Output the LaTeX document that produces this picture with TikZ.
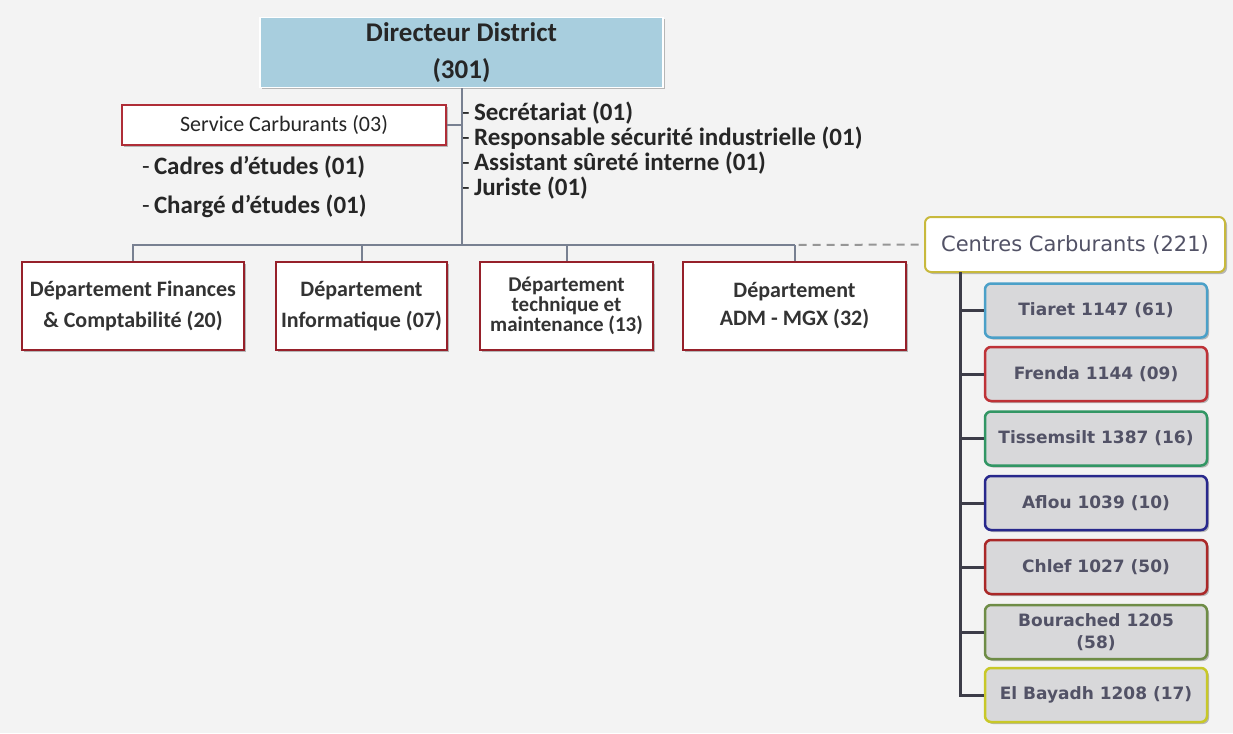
\documentclass[tikz,border=0pt]{standalone}
\usepackage{fontspec}
\setmainfont{Carlito}
\newfontfamily\verd{DejaVu Sans}
\usetikzlibrary{shadows}
\definecolor{bgc}{RGB}{243,243,243}
\definecolor{dirblue}{RGB}{168,206,222}
\definecolor{deptred}{RGB}{150,32,42}
\definecolor{svcred}{RGB}{175,45,55}
\definecolor{lnk}{RGB}{120,128,145}
\definecolor{dashc}{RGB}{150,150,150}
\definecolor{trunkc}{RGB}{60,60,72}
\definecolor{childfill}{RGB}{216,216,218}
\definecolor{childtxt}{RGB}{82,82,102}
\definecolor{ccborder}{RGB}{200,185,60}
\definecolor{cTiaret}{RGB}{75,160,200}
\definecolor{cFrenda}{RGB}{190,50,55}
\definecolor{cTiss}{RGB}{50,150,100}
\definecolor{cAflou}{RGB}{40,40,140}
\definecolor{cChlef}{RGB}{170,40,40}
\definecolor{cBour}{RGB}{110,140,70}
\definecolor{cBay}{RGB}{200,200,40}
\tikzset{
  shad/.style={drop shadow={shadow xshift=2pt,shadow yshift=-2pt,fill=black,opacity=0.25}},
  dirbox/.style={shad,draw=white,line width=1.5pt,fill=dirblue,minimum width=403pt,minimum height=70pt,align=center,inner sep=0pt,font=\bfseries\fontsize{27}{37}\selectfont,text=black!85},
  svcbox/.style={shad,draw=svcred,line width=2pt,fill=white,minimum width=324pt,minimum height=40pt,inner sep=0pt,font=\fontsize{22}{26}\selectfont,text=black!85},
  listtxt/.style={anchor=base west,inner sep=0pt,font=\bfseries\fontsize{25}{25}\selectfont,text=black!85},
  deptbox/.style={shad,draw=deptred,line width=2.5pt,fill=white,minimum height=88pt,align=center,inner sep=0pt,font=\bfseries\fontsize{22}{31}\selectfont,text=black!80},
  ccbox/.style={shad,draw=ccborder,line width=2pt,fill=white,rounded corners=6pt,minimum width=300pt,minimum height=55pt,inner sep=0pt,font=\verd\fontsize{21}{24}\selectfont,text=childtxt},
  childbox/.style={shad,line width=2.5pt,fill=childfill,rounded corners=6pt,minimum width=222pt,minimum height=54pt,inner sep=0pt,align=center,font=\verd\bfseries\fontsize{17}{22}\selectfont,text=childtxt},
  graylink/.style={draw=lnk,line width=2pt},
  dashlink/.style={draw=dashc,line width=2pt,dash pattern=on 8pt off 6pt},
  trunklink/.style={draw=trunkc,line width=3pt}
}
\begin{document}
\begin{tikzpicture}[x=1pt,y=-1pt]
\fill[bgc] (0,0) rectangle (1233,733);
\useasboundingbox (0,0) rectangle (1233,733);

% top
\node[dirbox] (dir) at (461.5,52.5) {Directeur District\\(301)};
\node[svcbox] (svc) at (284,125) {Service Carburants (03)};

\node[listtxt] (l1) at (462,121) {{\mdseries -}\,Secrétariat (01)};
\node[listtxt] (l2) at (462,146) {{\mdseries -}\,Responsable sécurité industrielle (01)};
\node[listtxt] (l3) at (462,170) {{\mdseries -}\,Assistant sûreté interne (01)};
\node[listtxt] (l4) at (462,195) {{\mdseries -}\,Juriste (01)};

\node[listtxt] (s1) at (142,174) {{\mdseries -}\,Cadres d’études (01)};
\node[listtxt] (s2) at (142,213) {{\mdseries -}\,Chargé d’études (01)};

% departments
\node[deptbox,minimum width=222pt] (d1) at (133,306) {Département Finances\\\& Comptabilité (20)};
\node[deptbox,minimum width=171pt] (d2) at (361.5,306) {Département\\Informatique (07)};
\node[deptbox,minimum width=173pt,font=\bfseries\fontsize{21}{20}\selectfont] (d3) at (566.5,306) {Département\\technique et\\maintenance (13)};
\node[deptbox,minimum width=223pt,font=\bfseries\fontsize{22}{28}\selectfont] (d4) at (794.5,306) {Département\\ADM - MGX (32)};

\coordinate (bus) at (461.5,245);

% centres
\node[ccbox] (cc) at (1075,244.5) {Centres Carburants (221)};
\node[childbox,draw=cTiaret] (c1) at (1096,310.5) {Tiaret 1147 (61)};
\node[childbox,draw=cFrenda] (c2) at (1096,374) {Frenda 1144 (09)};
\node[childbox,draw=cTiss] (c3) at (1096,438.5) {Tissemsilt 1387 (16)};
\node[childbox,draw=cAflou] (c4) at (1096,503) {Aflou 1039 (10)};
\node[childbox,draw=cChlef] (c5) at (1096,567) {Chlef 1027 (50)};
\node[childbox,draw=cBour] (c6) at (1096,632) {Bourached 1205\\(58)};
\node[childbox,draw=cBay] (c7) at (1096,695) {El Bayadh 1208 (17)};
\coordinate (trunk) at (960,272);

% connectors
\draw[graylink] (dir.south) -- (dir.south |- bus);
\draw[graylink] (svc.east) -- (svc.east -| dir.south);
\draw[graylink] (d1.north) |- (d4.north |- bus);
\draw[graylink] (d2.north) -- (d2.north |- bus);
\draw[graylink] (d3.north) -- (d3.north |- bus);
\draw[graylink] (d4.north) -- (d4.north |- bus);
\draw[dashlink] ([xshift=4pt]d4.north |- bus) -- (cc.west);

\draw[trunklink] (trunk) |- (c7.west);
\foreach \c in {c1,c2,c3,c4,c5,c6}{
  \draw[trunklink] (\c.west) -- (\c.west -| trunk);
}
\end{tikzpicture}
\end{document}
